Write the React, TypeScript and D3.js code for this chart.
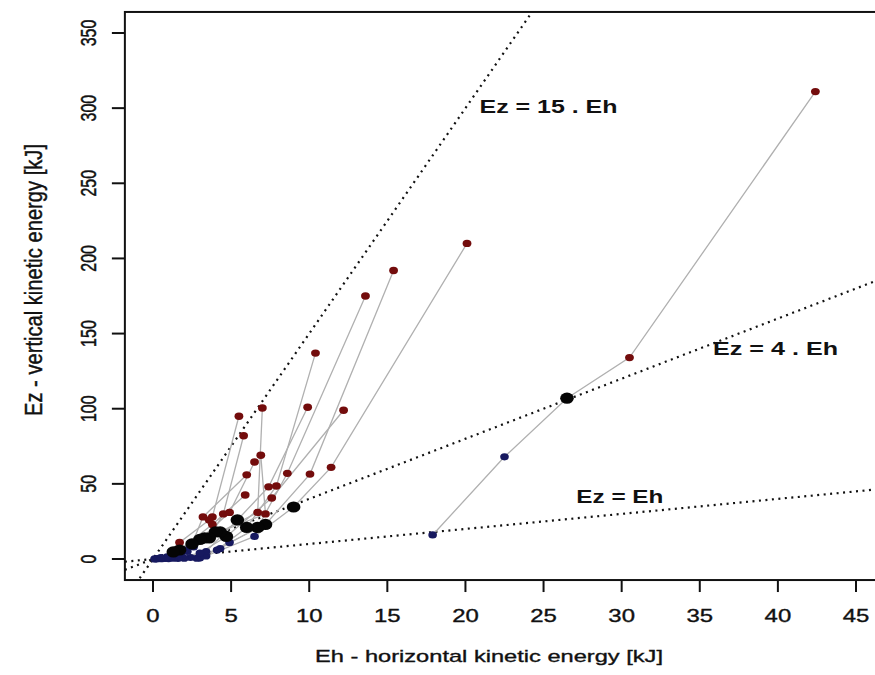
import * as d3 from "d3";

const WIDTH = 875;
const HEIGHT = 675;

// Trajectories: each index is one case, points go blue -> blue -> black -> red -> red
const EH_BLUE_LOW = [17.9, 3.4, 3.0, 2.8, 2.4, 2.0, 1.6, 1.3, 1.0, 0.8, 0.6, 0.5, 0.35, 0.2, 0.1];
const EZ_BLUE_LOW = [16, 2, 0.6, 0.5, 1, 0.5, 0.4, 0.5, 0.3, 0.4, 0.3, 0.2, 0.2, 0.1, 0.05];
const EH_BLUE_MID = [22.5, 6.5, 4.9, 4.3, 4.1, 3.4, 3.0, 2.6, 2.2, 2.0, 1.8, 1.6, 1.2, 0.9, 0.5];
const EZ_BLUE_MID = [68, 15, 11, 7, 6, 5, 4, 8, 5, 6, 4, 3, 2, 1.5, 1];
const EH_BLACK = [26.5, 9.0, 7.2, 6.7, 6.0, 5.4, 4.7, 4.3, 4.0, 3.6, 3.3, 3.0, 2.5, 1.7, 1.3];
const EZ_BLACK = [107, 34.6, 23, 21, 21, 26, 15, 18, 18, 14, 14, 13, 10, 6, 4.7];
const EH_RED_MID = [30.5, 11.4, 10.05, 8.6, 7.9, 7.4, 7.6, 6.7, 3.8, 4.5, 7.2, 4.9, 3.2, 3.8, 1.7];
const EZ_RED_MID = [134, 61, 56.5, 57, 48.6, 48, 40.6, 31, 28, 30, 30, 31, 28, 23, 11];
const EH_RED_HIGH = [42.4, 20.1, 15.4, 13.6, 10.4, 9.9, 12.2, 7.0, 5.5, 5.8, 6.9, 6.5, 6.0, 5.9, 3.6];
const EZ_RED_HIGH = [311, 210, 192, 175, 137, 101, 99, 100.5, 95, 82, 69, 64.5, 56, 42.6, 26];

// reference lines Ez = k . Eh
const REF_SLOPES = [15, 4, 1];
const REF_LABELS = ["Ez = 15 . Eh", "Ez = 4 . Eh", "Ez = Eh"];

const X_TICKS = [0, 5, 10, 15, 20, 25, 30, 35, 40, 45];
const Y_TICKS = [0, 50, 100, 150, 200, 250, 300, 350];

// label placement (data coords of the left/baseline point) and drawn width
const REF_LABEL_POS = [
  { eh: 20.9, ez: 296.8, len: 138 },
  { eh: 35.85, ez: 135.7, len: 125 },
  { eh: 27.1, ez: 37.3, len: 87 },
];

const FONT = "'Liberation Sans', Arial, Helvetica, sans-serif";
const STRETCH = 1.33;
const INK = "#111";

type Pt = [number, number];

export default function App() {
  const x = d3.scaleLinear().domain([0, 45]).range([153, 856]);
  const y = d3.scaleLinear().domain([0, 350]).range([559, 33]);

  // R-style 4% axis extension
  const xLo = -45 * 0.04, xHi = 45 * 1.04;
  const yLo = -350 * 0.04, yHi = 350 * 1.04;
  const fx0 = x(xLo), fx1 = x(xHi), fy0 = y(yLo), fy1 = y(yHi);

  const tracks: Pt[][] = EH_BLUE_LOW.map((_, i) => [
    [EH_BLUE_LOW[i], EZ_BLUE_LOW[i]],
    [EH_BLUE_MID[i], EZ_BLUE_MID[i]],
    [EH_BLACK[i], EZ_BLACK[i]],
    [EH_RED_MID[i], EZ_RED_MID[i]],
    [EH_RED_HIGH[i], EZ_RED_HIGH[i]],
  ]);

  const line = d3.line<Pt>().x((d) => x(d[0])).y((d) => y(d[1]));

  const blue: Pt[] = tracks.flatMap((t) => [t[0], t[1]]);
  const red: Pt[] = tracks.flatMap((t) => [t[3], t[4]]);
  const black: Pt[] = tracks.map((t) => t[2]);

  // slightly heavier text, like the scanned original
  const heavy = { fill: INK, stroke: INK, strokeWidth: 0.35 };

  return (
    <svg
      width={WIDTH}
      height={HEIGHT}
      style={{ position: "absolute", left: 0, top: 0, display: "block", background: "#fff" }}
      fontFamily={FONT}
    >
      <defs>
        <clipPath id="plot-clip">
          <rect x={fx0} y={fy1} width={fx1 - fx0} height={fy0 - fy1} />
        </clipPath>
      </defs>

      <g clipPath="url(#plot-clip)">
        {/* reference lines */}
        {REF_SLOPES.map((k) => (
          <line
            key={k}
            x1={x(xLo)}
            y1={y(k * xLo)}
            x2={x(xHi)}
            y2={y(k * xHi)}
            stroke={INK}
            strokeWidth={2.2}
            strokeDasharray="2 4.5"
          />
        ))}

        {/* trajectories */}
        {tracks.map((t, i) => (
          <path key={i} d={line(t) ?? ""} fill="none" stroke="#b0b0b0" strokeWidth={1.3} />
        ))}

        {blue.map((d, i) => (
          <ellipse key={"b" + i} cx={x(d[0])} cy={y(d[1])} rx={4.3} ry={3.6} fill="#17195f" />
        ))}
        {red.map((d, i) => (
          <ellipse key={"r" + i} cx={x(d[0])} cy={y(d[1])} rx={4.4} ry={3.7} fill="#730c0c" />
        ))}
        {black.map((d, i) => (
          <ellipse key={"k" + i} cx={x(d[0])} cy={y(d[1])} rx={6.8} ry={5.6} fill="#050505" />
        ))}
      </g>

      {/* frame */}
      <rect x={fx0} y={fy1} width={fx1 - fx0} height={fy0 - fy1} fill="none" stroke={INK} strokeWidth={2} />

      {/* x axis */}
      {X_TICKS.map((v) => (
        <g key={v}>
          <line x1={x(v)} x2={x(v)} y1={fy0} y2={fy0 + 12} stroke={INK} strokeWidth={2} />
          <text
            transform={`translate(${x(v)},622) scale(${STRETCH},1)`}
            textAnchor="middle"
            fontSize={18}
            {...heavy}
          >
            {v}
          </text>
        </g>
      ))}

      {/* y axis */}
      {Y_TICKS.map((v) => (
        <g key={v}>
          <line x1={fx0 - 13} x2={fx0} y1={y(v)} y2={y(v)} stroke={INK} strokeWidth={2} />
          <text
            transform={`translate(96,${y(v)}) scale(${STRETCH},1) rotate(-90)`}
            textAnchor="middle"
            fontSize={16}
            {...heavy}
          >
            {v}
          </text>
        </g>
      ))}

      {/* axis titles */}
      <text
        x={315}
        y={662}
        fontSize={17}
        textLength={348}
        lengthAdjust="spacingAndGlyphs"
        {...heavy}
      >
        Eh - horizontal kinetic energy [kJ]
      </text>
      <text
        transform={`translate(42,280) scale(${STRETCH},1) rotate(-90)`}
        textAnchor="middle"
        fontSize={18}
        textLength={272}
        lengthAdjust="spacingAndGlyphs"
        {...heavy}
      >
        Ez - vertical kinetic energy [kJ]
      </text>

      {/* reference line labels */}
      {REF_LABELS.map((lab, i) => (
        <text
          key={lab}
          x={x(REF_LABEL_POS[i].eh)}
          y={y(REF_LABEL_POS[i].ez)}
          fontSize={18}
          fontWeight="bold"
          textLength={REF_LABEL_POS[i].len}
          lengthAdjust="spacingAndGlyphs"
          fill={INK}
        >
          {lab}
        </text>
      ))}
    </svg>
  );
}
